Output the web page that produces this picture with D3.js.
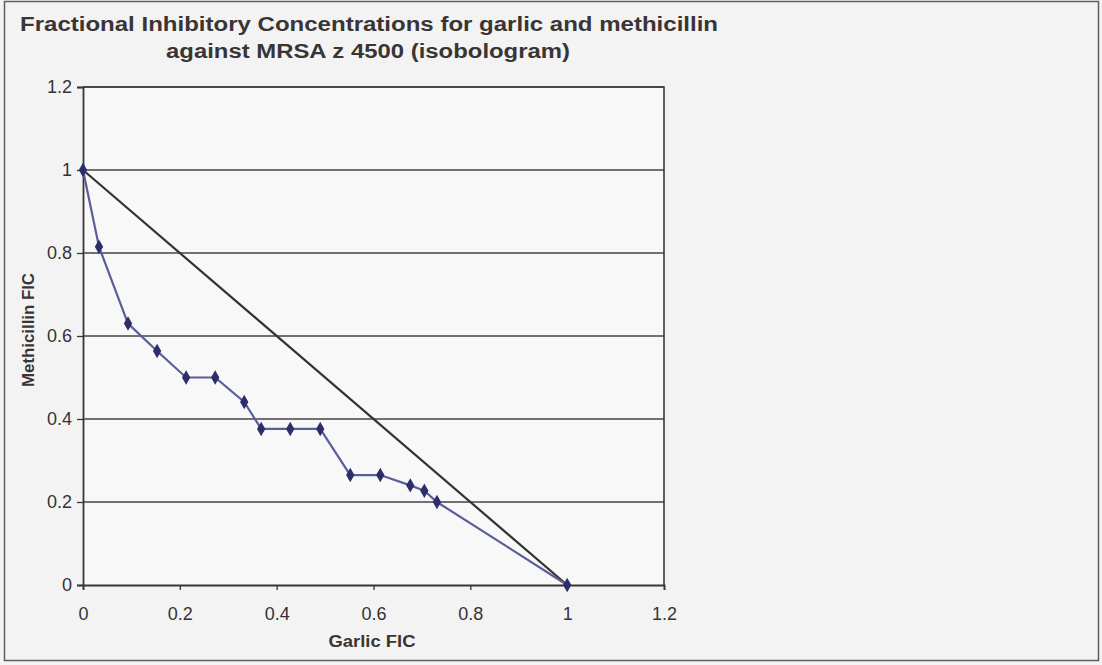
<!DOCTYPE html>
<html><head><meta charset="utf-8">
<script src="https://cdn.jsdelivr.net/npm/d3@7"></script>
<style>html,body{margin:0;padding:0;background:#f4f4f4;}svg{display:block;font-family:Arial,"Liberation Sans",sans-serif;}</style>
</head><body>
<svg id="c" width="1102" height="665"></svg>
<script>
const garlicFIC = [0, 0.033, 0.093, 0.153, 0.213, 0.273, 0.333, 0.368, 0.428, 0.49, 0.552, 0.614, 0.676, 0.705, 0.731, 1];
const methicillinFIC = [1, 0.815, 0.63, 0.564, 0.5, 0.5, 0.441, 0.376, 0.376, 0.376, 0.265, 0.265, 0.24, 0.227, 0.2, 0];
const additivityX = [0, 1];
const additivityY = [1, 0];
const xTicks = [0, 0.2, 0.4, 0.6, 0.8, 1, 1.2];
const yTicks = [0, 0.2, 0.4, 0.6, 0.8, 1, 1.2];
const titleLines = ["Fractional Inhibitory Concentrations for garlic and methicillin", "against MRSA z 4500 (isobologram)"];
const xTitle = "Garlic FIC";
const yTitle = "Methicillin FIC";

const svg = d3.select("#c");
const L = 83, R = 664, T = 87, B = 585;
const x = d3.scaleLinear().domain([0, 1.2]).range([L, R]);
const y = d3.scaleLinear().domain([0, 1.2]).range([B, T]);

// outer chart border
svg.append("rect").attr("x", 4.5).attr("y", 1.5).attr("width", 1094).attr("height", 659)
  .attr("fill", "#f3f3f3").attr("stroke", "#5e5e5e").attr("stroke-width", 1.5);

// plot area
svg.append("rect").attr("x", L).attr("y", T).attr("width", R - L).attr("height", B - T)
  .attr("fill", "#f8f8f8");

// gridlines
svg.append("g").selectAll("line").data(yTicks.filter(d => d > 0)).join("line")
  .attr("x1", L).attr("x2", R).attr("y1", d => y(d)).attr("y2", d => y(d))
  .attr("stroke", "#444").attr("stroke-width", 1.3);

// plot border (top/right)
svg.append("path").attr("d", `M${L},${T}H${R}V${B}`).attr("fill", "none")
  .attr("stroke", "#3a3a3a").attr("stroke-width", 1.6);

// axes
const xAxis = d3.axisBottom(x).tickValues(xTicks).tickFormat(d3.format("~g")).tickSize(5).tickPadding(17);
const yAxis = d3.axisLeft(y).tickValues(yTicks).tickFormat(d3.format("~g")).tickSize(6).tickPadding(5);
const gx = svg.append("g").attr("transform", `translate(0,${B})`).call(xAxis);
const gy = svg.append("g").attr("transform", `translate(${L},0)`).call(yAxis);
[gx, gy].forEach(g => {
  g.select(".domain").attr("stroke", "#3a3535").attr("stroke-width", 1.8);
  g.selectAll(".tick line").attr("stroke", "#3a3535").attr("stroke-width", 1.3);
  g.selectAll(".tick text").attr("fill", "#333").attr("font-size", 18).attr("font-family", "Arial, 'Liberation Sans', sans-serif");
});

// additivity line
svg.append("path")
  .datum(additivityX.map((d, i) => [d, additivityY[i]]))
  .attr("d", d3.line().x(d => x(d[0])).y(d => y(d[1])))
  .attr("fill", "none").attr("stroke", "#333").attr("stroke-width", 2.2);

// isobologram series
const pts = garlicFIC.map((d, i) => [d, methicillinFIC[i]]);
svg.append("path").datum(pts)
  .attr("d", d3.line().x(d => x(d[0])).y(d => y(d[1])))
  .attr("fill", "none").attr("stroke", "#5a5e98").attr("stroke-width", 2.2);
svg.append("g").selectAll("path").data(pts).join("path")
  .attr("transform", d => `translate(${x(d[0])},${y(d[1])})`)
  .attr("d", d3.symbol().type(d3.symbolDiamond).size(60))
  .attr("fill", "#2c2e6a");

// title
svg.append("text").attr("x", 369).attr("y", 31).attr("text-anchor", "middle")
  .attr("font-size", 20).attr("font-weight", "bold").attr("fill", "#3a3535")
  .attr("textLength", 698).attr("lengthAdjust", "spacingAndGlyphs").text(titleLines[0]);
svg.append("text").attr("x", 368).attr("y", 58).attr("text-anchor", "middle")
  .attr("font-size", 20).attr("font-weight", "bold").attr("fill", "#3a3535")
  .attr("textLength", 404).attr("lengthAdjust", "spacingAndGlyphs").text(titleLines[1]);

// axis titles
svg.append("text").attr("x", 372).attr("y", 647).attr("text-anchor", "middle")
  .attr("font-size", 16).attr("font-weight", "bold").attr("fill", "#3a3535")
  .attr("textLength", 87).attr("lengthAdjust", "spacingAndGlyphs").text(xTitle);
svg.append("text").attr("transform", "translate(34,330) rotate(-90)").attr("text-anchor", "middle")
  .attr("font-size", 16).attr("font-weight", "bold").attr("fill", "#3a3535")
  .attr("textLength", 114).attr("lengthAdjust", "spacingAndGlyphs").text(yTitle);
</script>
</body></html>
